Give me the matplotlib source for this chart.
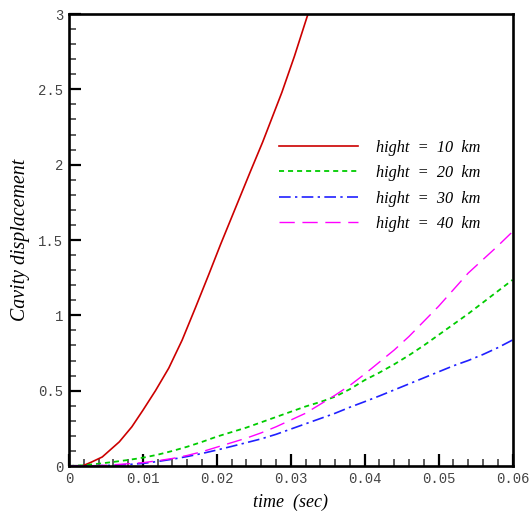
import matplotlib
matplotlib.use("Agg")
import matplotlib.pyplot as plt
from matplotlib.ticker import MultipleLocator, FixedLocator

# ---- data ----
t_red = [0.0018, 0.0030, 0.0045, 0.0068, 0.0085, 0.0100, 0.0117, 0.0135,
         0.0153, 0.0171, 0.0189, 0.0205, 0.0225, 0.0245, 0.0262, 0.0288,
         0.0305, 0.0322, 0.0325]
h10 = [0.0, 0.025, 0.06, 0.16, 0.26, 0.37, 0.50, 0.65,
       0.835, 1.05, 1.27, 1.47, 1.71, 1.95, 2.15, 2.48,
       2.72, 2.98, 3.02]

t = [0.000, 0.002, 0.004, 0.006, 0.008, 0.010, 0.012, 0.014, 0.016, 0.018,
     0.020, 0.022, 0.024, 0.026, 0.028, 0.030, 0.032, 0.034, 0.036, 0.038,
     0.040, 0.042, 0.044, 0.046, 0.048, 0.050, 0.052, 0.054, 0.056, 0.058,
     0.060]
h20 = [0.0, 0.005, 0.015, 0.027, 0.04, 0.055, 0.075, 0.10, 0.128, 0.16,
       0.195, 0.225, 0.255, 0.29, 0.325, 0.36, 0.395, 0.425, 0.46, 0.51,
       0.57, 0.62, 0.675, 0.735, 0.80, 0.87, 0.94, 1.01, 1.085, 1.16,
       1.235]
h30 = [0.0, 0.0, 0.002, 0.005, 0.01, 0.017, 0.03, 0.045, 0.063, 0.083,
       0.106, 0.13, 0.155, 0.18, 0.21, 0.245, 0.28, 0.315, 0.35, 0.39,
       0.427, 0.465, 0.505, 0.545, 0.585, 0.625, 0.665, 0.70, 0.74, 0.785,
       0.836]
h40 = [0.0, 0.0, 0.003, 0.008, 0.015, 0.022, 0.035, 0.05, 0.07, 0.095,
       0.125, 0.155, 0.185, 0.22, 0.26, 0.305, 0.35, 0.41, 0.47, 0.535,
       0.61, 0.69, 0.77, 0.86, 0.96, 1.06, 1.17, 1.28, 1.37, 1.46,
       1.555]

labels = ["hight  =  10  km", "hight  =  20  km",
          "hight  =  30  km", "hight  =  40  km"]
xticks = [0, 0.01, 0.02, 0.03, 0.04, 0.05, 0.06]
xticklabels = ["0", "0.01", "0.02", "0.03", "0.04", "0.05", "0.06"]
yticks = [0, 0.5, 1, 1.5, 2, 2.5, 3]
yticklabels = ["0", "0.5", "1", "1.5", "2", "2.5", "3"]

# ---- figure ----
fig = plt.figure(figsize=(5.31, 5.17), dpi=100)
ax = fig.add_axes([69 / 531, 1 - 466 / 517, (512.5 - 69) / 531, (466 - 14) / 517])

ax.plot(t_red, h10, color="#cc0000", lw=1.2, label=labels[0])
ax.plot(t, h20, color="#00cc00", lw=1.3, dashes=(2.8, 2.2), label=labels[1])
ax.plot(t, h30, color="#2020ff", lw=1.2, dashes=(7.0, 2.6, 1.4, 2.6), label=labels[2])
ax.plot(t, h40, color="#ff00ff", lw=1.0, dashes=(11.0, 5.5), label=labels[3])

ax.set_xlim(0, 0.06)
ax.set_ylim(0, 3)

mono = "Liberation Mono"
ax.xaxis.set_major_locator(FixedLocator(xticks))
ax.yaxis.set_major_locator(FixedLocator(yticks))
ax.set_xticklabels(xticklabels, family=mono, fontsize=10, color="#444444")
ax.set_yticklabels(yticklabels, family=mono, fontsize=10, color="#444444")
ax.xaxis.set_minor_locator(MultipleLocator(0.002))
ax.yaxis.set_minor_locator(MultipleLocator(0.1))
ax.tick_params(which="major", direction="in", length=8.8, width=1.6,
               color="black", pad=4, top=False, right=False)
ax.tick_params(which="minor", direction="in", length=4.8, width=1.1,
               color="#333333", top=False, right=False)
for s in ax.spines.values():
    s.set_linewidth(1.9)

serif = "Liberation Serif"
ax.set_xlabel("time  (sec)", family=serif, style="italic", fontsize=13, labelpad=6)
ax.set_ylabel("Cavity displacement", family=serif, style="italic", fontsize=14.3, labelpad=6)

leg = ax.legend(loc="upper left", bbox_to_anchor=(0.473, 0.722), frameon=False,
                prop={"family": serif, "style": "italic", "size": 11.7},
                handlelength=4.9, handletextpad=1.1, labelspacing=0.58,
                borderaxespad=0, borderpad=0)

fig.savefig("out.png", dpi=100)
